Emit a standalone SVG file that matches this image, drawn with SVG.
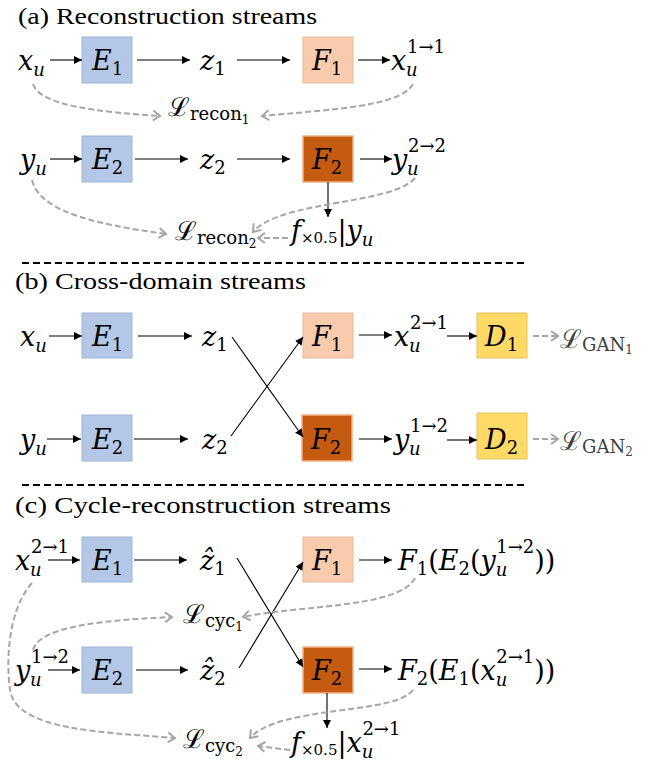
<svg xmlns="http://www.w3.org/2000/svg" width="663" height="766" viewBox="0 0 663 766">
<defs>
<marker id="ah" markerUnits="userSpaceOnUse" markerWidth="10" markerHeight="10" refX="8" refY="4" orient="auto">
<path d="M0,0 L8,4 L0,8 Z" fill="#000"/>
</marker>
<marker id="gh" markerUnits="userSpaceOnUse" markerWidth="12" markerHeight="12" refX="9" refY="6" orient="auto">
<path d="M2,1 L9,6 L2,11" fill="none" stroke="#a6a6a6" stroke-width="2"/>
</marker>
<style>
.title{font-family:'Liberation Serif','Times New Roman',serif;font-size:24px;fill:#000}
.m{font-family:'DejaVu Serif',serif;font-style:italic;font-size:27px;fill:#000}
.s{font-size:18px}
.x5{font-size:15px}
.u{font-style:normal}
.ss{font-size:12px;font-style:normal}
.L{font-family:'DejaVu Serif',serif;font-style:normal;font-size:26px;fill:#000}
.Lg{fill:#404040}
.ar{stroke:#000;stroke-width:1.1;fill:none;marker-end:url(#ah)}
.ga{stroke:#a6a6a6;stroke-width:2;stroke-dasharray:6 3;fill:none;marker-end:url(#gh)}
.sep{stroke:#000;stroke-width:2;stroke-dasharray:7 4;fill:none}
.E{fill:#b4c7e7;stroke:#9fb3d6;stroke-width:1}
.F1{fill:#f8cbad;stroke:#e6b89c;stroke-width:1}
.F2{fill:#c55a11;stroke:#f4b183;stroke-width:1.5}
.D{fill:#ffd966;stroke:#e2c060;stroke-width:1}
</style>
</defs>

<!-- titles -->
<text class="title" x="18" y="24" textLength="299" lengthAdjust="spacingAndGlyphs">(a) Reconstruction streams</text>
<text class="title" x="15" y="289" textLength="291" lengthAdjust="spacingAndGlyphs">(b) Cross-domain streams</text>
<text class="title" x="15" y="513" textLength="376" lengthAdjust="spacingAndGlyphs">(c) Cycle-reconstruction streams</text>

<!-- separators -->
<path class="sep" d="M22,263 H527"/>
<path class="sep" d="M22,485 H527"/>

<!-- ===== (a) ===== -->
<g id="a-xu"><text class="m" x="18" y="70">x<tspan class="s" dy="6">u</tspan></text></g>
<g id="a-E1"><rect class="E" x="82" y="37" width="50" height="46"/><text class="m" x="92" y="70">E<tspan class="s u" dy="5">1</tspan></text></g>
<g id="a-z1"><text class="m" x="200" y="70">z<tspan class="s u" dy="5">1</tspan></text></g>
<g id="a-F1"><rect class="F1" x="303" y="37" width="50" height="46"/><text class="m" x="312" y="70">F<tspan class="s u" dy="5">1</tspan></text></g>
<g id="a-x11"><text class="m" x="391" y="70">x<tspan class="s" x="406" y="76">u</tspan><tspan class="s u" x="407" y="53">1→1</tspan></text></g>
<g id="a-L1"><text class="L" x="168" y="116">ℒ<tspan class="s" dy="4">recon</tspan><tspan class="ss" dy="4">1</tspan></text></g>

<g id="a-yu"><text class="m" x="20" y="169">y<tspan class="s" dy="6">u</tspan></text></g>
<g id="a-E2"><rect class="E" x="82" y="136" width="50" height="46"/><text class="m" x="92" y="169">E<tspan class="s u" dy="5">2</tspan></text></g>
<g id="a-z2"><text class="m" x="200" y="169">z<tspan class="s u" dy="5">2</tspan></text></g>
<g id="a-F2"><rect class="F2" x="303" y="136" width="50" height="46"/><text class="m" x="312" y="169">F<tspan class="s u" dy="5">2</tspan></text></g>
<g id="a-y22"><text class="m" x="392" y="169">y<tspan class="s" x="407" y="175">u</tspan><tspan class="s u" x="408" y="152">2→2</tspan></text></g>
<g id="a-L2"><text class="L" x="175" y="240">ℒ<tspan class="s" dy="4">recon</tspan><tspan class="ss" dy="4">2</tspan></text></g>
<g id="a-f"><text class="m" x="291" y="240">f<tspan class="x5 u" dy="3">×0.5</tspan><tspan class="u" dy="-3">|</tspan>y<tspan class="s" dy="6">u</tspan></text></g>

<!-- ===== (b) ===== -->
<g id="b-xu"><text class="m" x="20" y="346">x<tspan class="s" dy="6">u</tspan></text></g>
<g id="b-E1"><rect class="E" x="82" y="313" width="50" height="45"/><text class="m" x="92" y="346">E<tspan class="s u" dy="5">1</tspan></text></g>
<g id="b-z1"><text class="m" x="202" y="346">z<tspan class="s u" dy="5">1</tspan></text></g>
<g id="b-F1"><rect class="F1" x="303" y="313" width="50" height="45"/><text class="m" x="312" y="346">F<tspan class="s u" dy="5">1</tspan></text></g>
<g id="b-x21"><text class="m" x="394" y="346">x<tspan class="s" x="409" y="352">u</tspan><tspan class="s u" x="410" y="329">2→1</tspan></text></g>
<g id="b-D1"><rect class="D" x="477" y="313" width="50" height="45"/><text class="m" x="485" y="346">D<tspan class="s u" dy="5">1</tspan></text></g>
<g id="b-G1"><text class="L Lg" x="560" y="348">ℒ<tspan class="s" dy="3">GAN</tspan><tspan class="ss" dy="3">1</tspan></text></g>

<g id="b-yu"><text class="m" x="20" y="449">y<tspan class="s" dy="6">u</tspan></text></g>
<g id="b-E2"><rect class="E" x="82" y="415" width="50" height="46"/><text class="m" x="92" y="449">E<tspan class="s u" dy="5">2</tspan></text></g>
<g id="b-z2"><text class="m" x="202" y="449">z<tspan class="s u" dy="5">2</tspan></text></g>
<g id="b-F2"><rect class="F2" x="302" y="415" width="50" height="46"/><text class="m" x="311" y="449">F<tspan class="s u" dy="5">2</tspan></text></g>
<g id="b-y12"><text class="m" x="394" y="449">y<tspan class="s" x="409" y="455">u</tspan><tspan class="s u" x="410" y="432">1→2</tspan></text></g>
<g id="b-D2"><rect class="D" x="477" y="413" width="50" height="46"/><text class="m" x="485" y="449">D<tspan class="s u" dy="5">2</tspan></text></g>
<g id="b-G2"><text class="L Lg" x="560" y="450">ℒ<tspan class="s" dy="3">GAN</tspan><tspan class="ss" dy="3">2</tspan></text></g>

<!-- ===== (c) ===== -->
<g id="c-x21"><text class="m" x="15" y="570">x<tspan class="s" x="30" y="576">u</tspan><tspan class="s u" x="31" y="553">2→1</tspan></text></g>
<g id="c-E1"><rect class="E" x="82" y="537" width="50" height="45"/><text class="m" x="92" y="570">E<tspan class="s u" dy="5">1</tspan></text></g>
<g id="c-z1"><text class="m" x="200" y="570">ẑ<tspan class="s u" dy="5">1</tspan></text></g>
<g id="c-F1"><rect class="F1" x="303" y="537" width="50" height="45"/><text class="m" x="312" y="570">F<tspan class="s u" dy="5">1</tspan></text></g>
<g id="c-out1"><text class="m" x="398" y="570">F<tspan class="s u" dy="5">1</tspan><tspan class="u" dy="-5">(</tspan>E<tspan class="s u" dy="5">2</tspan><tspan class="u" dy="-5">(</tspan>y<tspan class="s" dy="6">u</tspan><tspan class="s u" dx="-11" dy="-23">1→2</tspan><tspan class="u" dy="17">))</tspan></text></g>
<g id="c-L1"><text class="L" x="183" y="623">ℒ<tspan class="s" dy="4">cyc</tspan><tspan class="ss" dy="4">1</tspan></text></g>

<g id="c-y12"><text class="m" x="15" y="680">y<tspan class="s" x="30" y="686">u</tspan><tspan class="s u" x="31" y="663">1→2</tspan></text></g>
<g id="c-E2"><rect class="E" x="82" y="647" width="50" height="46"/><text class="m" x="92" y="680">E<tspan class="s u" dy="5">2</tspan></text></g>
<g id="c-z2"><text class="m" x="200" y="680">ẑ<tspan class="s u" dy="5">2</tspan></text></g>
<g id="c-F2"><rect class="F2" x="303" y="647" width="50" height="46"/><text class="m" x="312" y="680">F<tspan class="s u" dy="5">2</tspan></text></g>
<g id="c-out2"><text class="m" x="398" y="680">F<tspan class="s u" dy="5">2</tspan><tspan class="u" dy="-5">(</tspan>E<tspan class="s u" dy="5">1</tspan><tspan class="u" dy="-5">(</tspan>x<tspan class="s" dy="6">u</tspan><tspan class="s u" dx="-11" dy="-23">2→1</tspan><tspan class="u" dy="17">))</tspan></text></g>
<g id="c-L2"><text class="L" x="183" y="748">ℒ<tspan class="s" dy="4">cyc</tspan><tspan class="ss" dy="4">2</tspan></text></g>
<g id="c-f"><text class="m" x="291" y="752">f<tspan class="x5 u" dy="3">×0.5</tspan><tspan class="u" dy="-3">|</tspan>x<tspan class="s" dy="6">u</tspan><tspan class="s u" dx="-11" dy="-23">2→1</tspan></text></g>

<!-- ===== connectors ===== -->
<g id="connectors">
<path class="ar" d="M50,60 H82"/>
<path class="ar" d="M137,60 H190"/>
<path class="ar" d="M237,60 H290"/>
<path class="ar" d="M358,60 H390"/>
<path class="ar" d="M50,159 H82"/>
<path class="ar" d="M135,159 H188"/>
<path class="ar" d="M237,159 H290"/>
<path class="ar" d="M360,159 H392"/>
<path class="ar" d="M328,182 V217"/>
<path class="ga" d="M33,84 C40,106 100,112 160,116"/>
<path class="ga" d="M413,84 C400,108 320,110 262,116"/>
<path class="ga" d="M32,180 C40,215 110,226 166,234"/>
<path class="ga" d="M415,178 C392,205 280,200 253,232"/>
<path class="ga" d="M288,238 L258,238"/>
<path class="ar" d="M49,336 H82"/>
<path class="ar" d="M138,336 H192"/>
<path class="ar" d="M359,335 H392"/>
<path class="ar" d="M447,336 H477"/>
<path class="ar" d="M47,439 H81"/>
<path class="ar" d="M134,439 H188"/>
<path class="ar" d="M359,439 H392"/>
<path class="ar" d="M447,440 H477"/>
<path class="ar" d="M232,337 L303,437"/>
<path class="ar" d="M231,436 L303,337"/>
<path class="ga" d="M533,336 H558"/>
<path class="ga" d="M533,439 H558"/>
<path class="ar" d="M48,560 H80"/>
<path class="ar" d="M134,560 H187"/>
<path class="ar" d="M359,560 H392"/>
<path class="ar" d="M48,670 H80"/>
<path class="ar" d="M136,670 H188"/>
<path class="ar" d="M359,669 H392"/>
<path class="ar" d="M237,558 L303,667"/>
<path class="ar" d="M239,668 L303,562"/>
<path class="ar" d="M327,693 V728"/>
<path class="ga" d="M33,650 C40,625 110,620 172,617"/>
<path class="ga" d="M415,578 C400,608 300,605 243,617"/>
<path class="ga" d="M32,583 C8,610 6,660 10,690 C16,730 100,732 175,738"/>
<path class="ga" d="M413,690 C395,715 280,705 250,738"/>
<path class="ga" d="M290,750 L258,746"/>
</g>
</svg>
